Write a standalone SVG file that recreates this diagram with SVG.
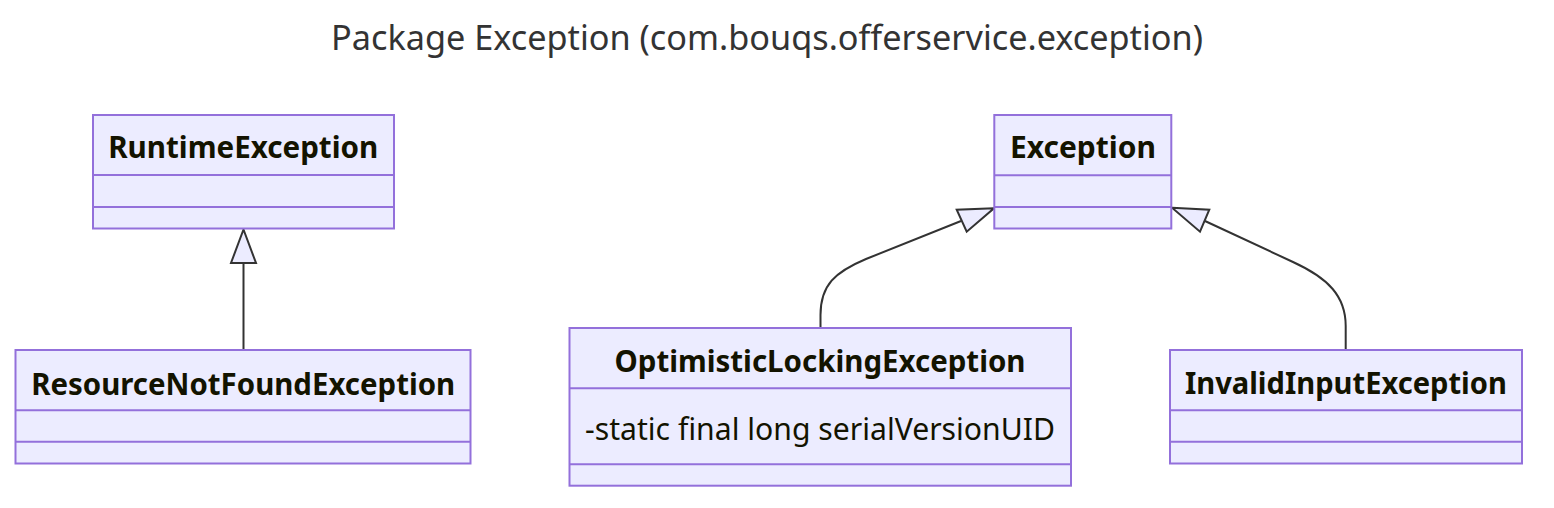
<svg xmlns="http://www.w3.org/2000/svg" width="1554" height="508" viewBox="0 0 1554 508">
<style>
  .box { fill: #ECECFF; stroke: #9370DB; stroke-width: 2; }
  .div { stroke: #9370DB; stroke-width: 2; }
  .name { font-family: "Noto Sans", "Open Sans", sans-serif; font-weight: bold; font-size: 31px; fill: #131300; text-anchor: middle; }
  .member { font-family: "Noto Sans", "Open Sans", sans-serif; font-size: 31px; fill: #131300; text-anchor: middle; }
  .title { font-family: "Noto Sans", "Open Sans", sans-serif; font-size: 35px; fill: #333333; text-anchor: middle; }
  .edge { fill: none; stroke: #333333; stroke-width: 2; }
  .arrow { fill: #ECECFF; stroke: #333333; stroke-width: 2; stroke-linejoin: miter; }
</style>
<rect width="1554" height="508" fill="#ffffff"/>
<text class="title" x="767" y="50" textLength="872" lengthAdjust="spacingAndGlyphs">Package Exception (com.bouqs.offerservice.exception)</text>

<g id="connectors">
  <path class="edge" d="M243.5,350 L243.5,262"/>
  <polygon class="arrow" points="243.5,229.5 231,263 256,263"/>
  <path class="edge" d="M820.5,327 L820.5,315 C820.5,285 835,272 866,259 L961,221"/>
  <polygon class="arrow" points="994,208.3 956.7,209.7 966.7,231.7"/>
  <path class="edge" d="M1345.7,350 L1345.7,326 C1345.7,296 1328,278 1293,262 L1205,221"/>
  <polygon class="arrow" points="1172,207.7 1209.3,209.7 1200,231.7"/>
</g>

<g id="RuntimeException">
  <rect class="box" x="93" y="115" width="301" height="113.5"/>
  <line class="div" x1="93" y1="175" x2="394" y2="175"/>
  <line class="div" x1="93" y1="207" x2="394" y2="207"/>
  <text class="name" x="243.2" y="158.3" textLength="270" lengthAdjust="spacingAndGlyphs">RuntimeException</text>
</g>

<g id="Exception">
  <rect class="box" x="994.3" y="115" width="177" height="113.5"/>
  <line class="div" x1="994.3" y1="175.3" x2="1171.3" y2="175.3"/>
  <line class="div" x1="994.3" y1="207" x2="1171.3" y2="207"/>
  <text class="name" x="1083" y="158.3" textLength="146" lengthAdjust="spacingAndGlyphs">Exception</text>
</g>

<g id="ResourceNotFoundException">
  <rect class="box" x="15.5" y="350" width="455" height="113.5"/>
  <line class="div" x1="15.5" y1="410.3" x2="470.5" y2="410.3"/>
  <line class="div" x1="15.5" y1="441.7" x2="470.5" y2="441.7"/>
  <text class="name" x="243.2" y="395" textLength="424" lengthAdjust="spacingAndGlyphs">ResourceNotFoundException</text>
</g>

<g id="OptimisticLockingException">
  <rect class="box" x="569.5" y="328" width="501.5" height="157.7"/>
  <line class="div" x1="569.5" y1="388.3" x2="1071" y2="388.3"/>
  <line class="div" x1="569.5" y1="464.3" x2="1071" y2="464.3"/>
  <text class="name" x="820" y="372.3" textLength="411" lengthAdjust="spacingAndGlyphs">OptimisticLockingException</text>
  <text class="member" x="820" y="440" textLength="470" lengthAdjust="spacingAndGlyphs">-static final long serialVersionUID</text>
</g>

<g id="InvalidInputException">
  <rect class="box" x="1170" y="350" width="352" height="113.5"/>
  <line class="div" x1="1170" y1="410.3" x2="1522" y2="410.3"/>
  <line class="div" x1="1170" y1="441.7" x2="1522" y2="441.7"/>
  <text class="name" x="1345.9" y="394.3" textLength="322" lengthAdjust="spacingAndGlyphs">InvalidInputException</text>
</g>
</svg>
